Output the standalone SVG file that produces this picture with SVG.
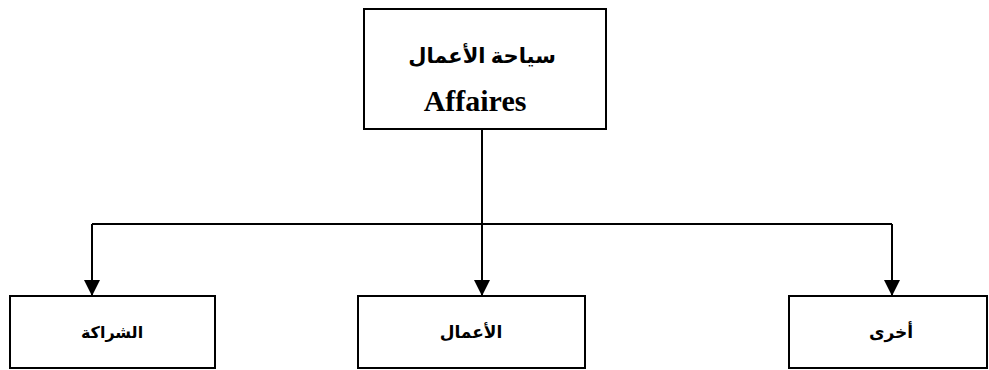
<svg xmlns="http://www.w3.org/2000/svg" width="989" height="370" viewBox="0 0 989 370">
  <style>
    .box { fill: #ffffff; stroke: #000000; stroke-width: 2; }
    .line { fill: none; stroke: #000000; stroke-width: 2; }
    .ar { font-family: "Liberation Serif", "DejaVu Sans", serif; font-weight: bold; text-anchor: middle; fill: #000000; }
    .lat { font-family: "Liberation Serif", serif; font-weight: bold; text-anchor: middle; fill: #000000; }
  </style>
  <defs>
    <marker id="arrow" markerUnits="userSpaceOnUse" markerWidth="16" markerHeight="17" refX="16" refY="8" orient="auto">
      <path d="M0,0 L16,8 L0,16 Z" fill="#000000"/>
    </marker>
  </defs>
  <rect width="989" height="370" fill="#ffffff"/>

  <!-- connectors -->
  <g id="connectors">
    <line class="line" x1="482" y1="129" x2="482" y2="224"/>
    <line class="line" x1="92" y1="224" x2="892" y2="224"/>
    <line class="line" x1="92" y1="224" x2="92" y2="296" marker-end="url(#arrow)"/>
    <line class="line" x1="482" y1="224" x2="482" y2="296" marker-end="url(#arrow)"/>
    <line class="line" x1="892" y1="224" x2="892" y2="296" marker-end="url(#arrow)"/>
  </g>

  <!-- root node -->
  <g id="node-affaires">
    <rect class="box" x="364" y="9" width="242" height="120"/>
    <text class="ar" x="482" y="63" font-size="21" direction="rtl">سياحة الأعمال</text>
    <text class="lat" x="475" y="111" font-size="30">Affaires</text>
  </g>

  <!-- child nodes -->
  <g id="node-partnership">
    <rect class="box" x="10" y="296" width="205" height="72"/>
    <text class="ar" x="112" y="338" font-size="16" direction="rtl">الشراكة</text>
  </g>
  <g id="node-business">
    <rect class="box" x="358" y="296" width="227" height="72"/>
    <text class="ar" x="471" y="338" font-size="17" direction="rtl">الأعمال</text>
  </g>
  <g id="node-other">
    <rect class="box" x="789" y="296" width="198" height="72"/>
    <text class="ar" x="891" y="338" font-size="17" direction="rtl">أخرى</text>
  </g>
</svg>
